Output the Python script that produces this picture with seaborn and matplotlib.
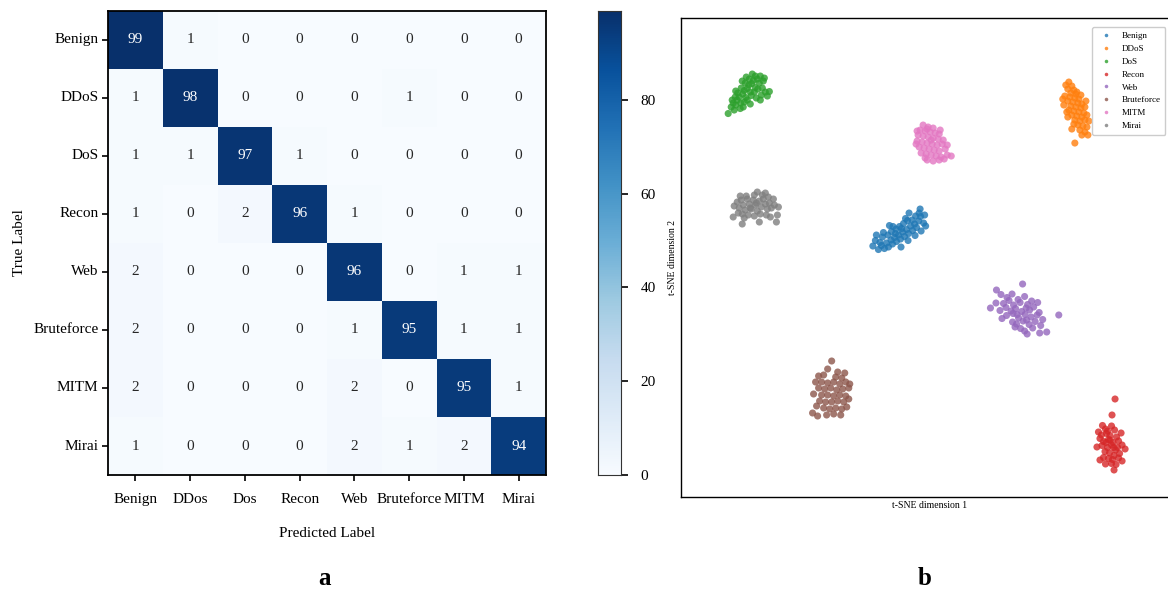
import numpy as np
import pandas as pd
import matplotlib
matplotlib.use("Agg")
import matplotlib.pyplot as plt
import seaborn as sns

plt.rcParams["font.family"] = ["Liberation Serif", "DejaVu Serif"]

# ---- confusion matrix (percent) ----
true_labels = ["Benign", "DDoS", "DoS", "Recon", "Web", "Bruteforce", "MITM", "Mirai"]
pred_labels = ["Benign", "DDos", "Dos", "Recon", "Web", "Bruteforce", "MITM", "Mirai"]
cm_benign = [99, 1, 0, 0, 0, 0, 0, 0]
cm_ddos = [1, 98, 0, 0, 0, 1, 0, 0]
cm_dos = [1, 1, 97, 1, 0, 0, 0, 0]
cm_recon = [1, 0, 2, 96, 1, 0, 0, 0]
cm_web = [2, 0, 0, 0, 96, 0, 1, 1]
cm_brute = [2, 0, 0, 0, 1, 95, 1, 1]
cm_mitm = [2, 0, 0, 0, 2, 0, 95, 1]
cm_mirai = [1, 0, 0, 0, 2, 1, 2, 94]
cbar_ticks = [0, 20, 40, 60, 80]

# ---- t-SNE embedding per class ----
emb_benign = [(-10.6, 2.4), (-10.1, 3.5), (-9.5, 1.7), (-9.2, 3.1), (-8.9, 2.5), (-8.7, 4.2), (-8.3, 1.9),
              (-7.9, 3.0), (-7.6, 4.6), (-7.5, 2.2), (-7.0, 3.6), (-6.9, 5.3), (-6.7, 2.8), (-6.3, 4.1),
              (-6.0, 5.8), (-5.9, 3.3), (-5.5, 4.6), (-5.3, 6.3), (-5.1, 3.8), (-4.7, 5.2), (-4.5, 6.9),
              (-4.3, 4.3), (-3.9, 5.7), (-3.7, 7.5), (-3.5, 4.9), (-3.1, 6.4), (-2.8, 7.6), (-2.7, 5.5),
              (-2.3, 6.8), (-2.1, 8.4), (-1.9, 6.1), (-1.5, 7.4), (-1.1, 8.3), (-1.0, 5.4), (-0.5, 7.0),
              (-0.1, 6.4), (-0.3, 8.6), (-1.4, 9.0), (-1.2, 9.8), (-3.4, 9.0), (-6.6, 6.3), (-8.5, 5.1),
              (-5.0, 2.2), (-3.6, 3.5), (-2.2, 4.5), (-9.9, 4.6), (-7.3, 6.5), (-4.1, 7.9), (-6.1, 4.9),
              (-4.9, 5.9)]
emb_ddos = [(28.4, 35.2), (29.0, 34.4), (28.2, 33.8), (29.4, 33.6), (28.8, 33.0), (29.8, 32.8), (27.6, 32.4),
            (28.6, 32.2), (29.6, 32.0), (30.4, 31.8), (28.2, 31.4), (29.2, 31.2), (30.2, 31.0), (31.0, 30.8),
            (27.4, 30.6), (28.8, 30.4), (29.8, 30.2), (30.8, 30.0), (31.6, 30.2), (28.4, 29.6), (29.4, 29.4),
            (30.4, 29.2), (31.4, 29.0), (29.0, 28.6), (30.0, 28.4), (31.0, 28.2), (32.0, 28.6), (28.2, 28.2),
            (29.6, 27.6), (30.6, 27.4), (31.6, 27.6), (30.2, 26.6), (31.2, 26.4), (29.4, 26.8), (32.0, 26.2),
            (30.6, 25.6), (31.6, 25.2), (31.0, 24.6), (32.2, 24.6), (29.6, 23.0), (27.2, 31.8), (30.0, 33.2),
            (28.0, 29.2), (31.8, 31.4), (30.8, 32.6), (29.0, 25.8), (32.4, 27.4), (27.8, 34.6)]
emb_dos = [(-38.8, 30.2), (-39.4, 28.9), (-38.4, 31.0), (-37.9, 30.6), (-37.6, 31.6), (-37.2, 32.2),
           (-36.9, 31.0), (-36.5, 32.8), (-36.2, 33.5), (-35.9, 32.1), (-35.6, 33.9), (-35.3, 34.6),
           (-35.0, 33.2), (-34.7, 34.9), (-34.4, 35.5), (-34.0, 34.1), (-33.6, 35.8), (-33.2, 35.0),
           (-33.0, 36.4), (-34.8, 32.5), (-36.8, 34.0), (-37.5, 33.0), (-38.0, 32.2), (-36.0, 35.0),
           (-35.2, 35.8), (-34.2, 33.2), (-33.5, 33.8), (-32.6, 34.0), (-32.0, 33.2), (-31.2, 33.3),
           (-31.6, 32.4), (-32.8, 32.6), (-34.0, 36.4), (-32.2, 36.0), (-36.2, 31.2), (-37.0, 29.9),
           (-38.2, 29.6), (-35.6, 31.6), (-34.6, 36.8), (-35.8, 36.2), (-33.8, 32.0), (-37.9, 33.4),
           (-36.6, 35.4), (-32.4, 35.4), (-33.0, 31.6), (-38.6, 31.6), (-35.0, 30.8), (-36.4, 30.2)]
emb_recon = [(37.6, -28.2), (37.0, -31.4), (35.1, -33.5), (34.3, -34.8), (35.7, -34.2), (36.9, -33.6),
             (37.5, -34.4), (34.9, -35.4), (35.9, -35.1), (36.6, -35.5), (37.9, -35.8), (34.6, -36.1),
             (35.3, -36.7), (36.3, -36.3), (37.2, -36.9), (38.3, -36.6), (35.0, -37.5), (36.1, -37.9),
             (36.9, -37.4), (38.1, -37.9), (39.0, -37.4), (35.6, -38.7), (36.5, -39.0), (37.7, -38.4),
             (38.5, -39.1), (39.6, -38.2), (35.3, -39.9), (36.3, -40.1), (37.1, -40.3), (38.3, -40.0),
             (36.9, -41.1), (37.8, -41.3), (35.7, -41.2), (37.4, -42.4), (34.6, -40.4), (39.0, -40.6),
             (38.8, -35.0), (34.0, -37.8), (36.1, -34.6), (36.6, -36.4), (37.4, -39.5), (35.8, -36.9),
             (37.3, -37.9)]
emb_web = [(14.0, -6.4), (19.2, -5.2), (12.8, -10.0), (26.4, -11.4), (24.0, -14.8), (22.6, -15.0),
           (14.9, -7.3), (16.1, -7.9), (17.1, -7.2), (18.3, -8.3), (19.6, -7.7), (15.4, -9.1),
           (16.5, -8.5), (17.4, -9.4), (18.7, -8.9), (20.2, -9.3), (21.0, -8.6), (14.7, -10.5),
           (15.9, -9.9), (16.9, -10.6), (17.8, -10.1), (19.0, -10.7), (20.6, -10.4), (21.4, -9.8),
           (22.5, -10.9), (16.0, -11.5), (17.3, -11.1), (18.4, -12.0), (19.7, -11.3), (20.9, -11.8),
           (22.1, -11.4), (23.2, -12.3), (17.2, -12.8), (18.0, -13.2), (19.3, -12.6), (20.5, -13.3),
           (21.7, -12.7), (18.8, -14.1), (19.6, -14.6), (21.2, -14.0), (20.1, -15.2), (17.7, -13.8),
           (22.8, -13.5), (15.1, -12.1), (13.9, -9.0), (22.2, -8.9), (19.9, -10.0), (18.1, -11.3),
           (20.0, -12.4)]
emb_brute = [(-18.8, -20.6), (-19.6, -22.2), (-21.4, -23.6), (-20.4, -23.4), (-18.0, -23.8), (-16.8, -24.0),
             (-22.0, -24.8), (-20.8, -24.8), (-19.6, -25.0), (-18.4, -24.8), (-17.2, -25.2), (-16.0, -24.8),
             (-21.4, -26.0), (-20.2, -26.2), (-19.0, -26.0), (-17.8, -26.4), (-16.6, -26.2), (-15.4, -26.0),
             (-20.8, -27.4), (-19.6, -27.4), (-18.4, -27.6), (-17.2, -27.4), (-16.0, -27.6), (-21.2, -28.6),
             (-20.0, -28.8), (-18.8, -28.8), (-17.6, -28.6), (-16.4, -28.8), (-15.4, -28.2), (-20.4, -30.0),
             (-19.2, -30.2), (-18.0, -30.0), (-16.8, -30.2), (-15.8, -29.8), (-19.8, -31.4), (-18.4, -31.2),
             (-17.0, -31.4), (-22.6, -31.0), (-21.6, -31.6), (-22.4, -27.2), (-16.2, -23.0), (-15.2, -25.2),
             (-21.8, -29.6), (-17.6, -22.8)]
emb_mitm = [(-0.6, 26.6), (0.4, 26.2), (1.4, 26.0), (-1.2, 25.6), (-0.2, 25.4), (0.8, 25.2), (1.8, 25.0),
            (2.6, 24.8), (-1.6, 24.6), (-0.6, 24.4), (0.4, 24.2), (1.4, 24.0), (2.4, 23.8), (-1.8, 23.4),
            (-0.8, 23.2), (0.2, 23.0), (1.2, 22.8), (2.2, 22.6), (3.2, 22.8), (-1.4, 22.2), (-0.4, 22.0),
            (0.6, 21.8), (1.6, 21.6), (2.6, 21.4), (3.8, 21.8), (-1.0, 21.0), (0.0, 20.8), (1.0, 20.6),
            (2.0, 20.4), (3.0, 20.2), (4.2, 20.6), (5.0, 20.4), (0.2, 19.6), (1.4, 19.4), (2.6, 19.6),
            (3.6, 19.8), (-1.8, 25.4), (2.8, 25.6), (3.4, 23.6), (-2.0, 22.8), (1.0, 23.6), (0.2, 25.8),
            (4.2, 22.6), (-0.2, 20.0)]
emb_mirai = [(-38.2, 10.4), (-37.6, 11.2), (-37.2, 10.0), (-36.8, 11.6), (-36.4, 10.6), (-36.0, 9.6),
             (-35.6, 11.8), (-35.2, 10.8), (-34.8, 9.8), (-34.4, 11.6), (-34.0, 10.6), (-33.6, 9.4),
             (-33.2, 11.4), (-32.8, 10.2), (-32.4, 11.8), (-32.0, 10.8), (-31.6, 9.8), (-31.2, 11.0),
             (-30.8, 10.0), (-30.2, 10.6), (-29.4, 10.2), (-36.6, 8.8), (-35.4, 8.6), (-34.2, 8.4),
             (-33.0, 8.8), (-31.8, 8.6), (-35.8, 12.4), (-34.2, 12.6), (-32.6, 12.6), (-31.4, 12.2),
             (-38.4, 8.2), (-36.6, 6.8), (-33.2, 7.2), (-29.8, 7.2), (-33.6, 13.2), (-32.0, 13.0),
             (-37.0, 12.4), (-30.4, 11.8), (-35.0, 10.0), (-33.8, 11.0), (-36.2, 8.0), (-31.0, 8.2),
             (-37.4, 9.0), (-29.6, 8.6)]

class_names = ["Benign", "DDoS", "DoS", "Recon", "Web", "Bruteforce", "MITM", "Mirai"]

# ---- assemble tables ----
cm = pd.DataFrame([cm_benign, cm_ddos, cm_dos, cm_recon, cm_web, cm_brute, cm_mitm, cm_mirai],
                  index=true_labels, columns=pred_labels)

rows = []
for name, pts in zip(class_names, [emb_benign, emb_ddos, emb_dos, emb_recon,
                                   emb_web, emb_brute, emb_mitm, emb_mirai]):
    for x, y in pts:
        rows.append({"dim1": x, "dim2": y, "label": name})
emb = pd.DataFrame(rows)

fig = plt.figure(figsize=(11.68, 5.92), dpi=100)
ax_cm = fig.add_axes([0.0925, 0.1976, 0.375, 0.784])
ax_cb = fig.add_axes([0.512, 0.1976, 0.0197, 0.784])
ax_ts = fig.add_axes([0.583, 0.1605, 0.425, 0.809])

# left: confusion matrix heatmap
sns.heatmap(cm, ax=ax_cm, cbar_ax=ax_cb, cmap="Blues", annot=True, fmt="d",
            annot_kws={"fontsize": 11}, vmin=0, vmax=99,
            cbar_kws={"ticks": cbar_ticks})
for side in ["top", "bottom", "left", "right"]:
    ax_cm.spines[side].set_visible(True)
    ax_cm.spines[side].set_linewidth(1.3)
    ax_cm.spines[side].set_color("black")
ax_cm.set_xticklabels(pred_labels, rotation=0, fontsize=11)
ax_cm.set_yticklabels(true_labels, rotation=0, fontsize=11)
ax_cm.tick_params(axis="both", length=4, width=1.2)
ax_cm.tick_params(axis="x", pad=9)
ax_cm.tick_params(axis="y", pad=3)
ax_cm.set_xlabel("Predicted Label", fontsize=11, labelpad=15)
ax_cm.set_ylabel("True Label", fontsize=11, labelpad=5)
ax_cb.tick_params(labelsize=11, length=5, width=1.2, pad=9)
for side in ["top", "bottom", "left", "right"]:
    ax_cb.spines[side].set_visible(True)
    ax_cb.spines[side].set_color("#333333")

# right: t-SNE scatter
sns.scatterplot(data=emb, x="dim1", y="dim2", hue="label", hue_order=class_names,
                palette="tab10", s=26, alpha=0.8, edgecolor="none", ax=ax_ts)
ax_ts.set_xlim(-48.8, 50.0)
ax_ts.set_ylim(-47.8, 48.0)
ax_ts.set_xticks([])
ax_ts.set_yticks([])
ax_ts.set_xlabel("t-SNE dimension 1", fontsize=7, labelpad=3)
ax_ts.set_ylabel("t-SNE dimension 2", fontsize=7, labelpad=3)
for side in ["top", "bottom", "left", "right"]:
    ax_ts.spines[side].set_linewidth(1.0)
    ax_ts.spines[side].set_color("black")
ax_ts.legend(loc="upper right", fontsize=6.5, markerscale=0.5, frameon=True,
             framealpha=1.0, edgecolor="#cccccc", fancybox=True,
             bbox_to_anchor=(0.985, 0.99), handletextpad=0.8, borderpad=0.5)

# panel letters
fig.text(0.278, 0.004, "a", fontsize=18, fontweight="bold", ha="center", va="bottom")
fig.text(0.792, 0.004, "b", fontsize=18, fontweight="bold", ha="center", va="bottom")

fig.savefig("out.png", dpi=100)
